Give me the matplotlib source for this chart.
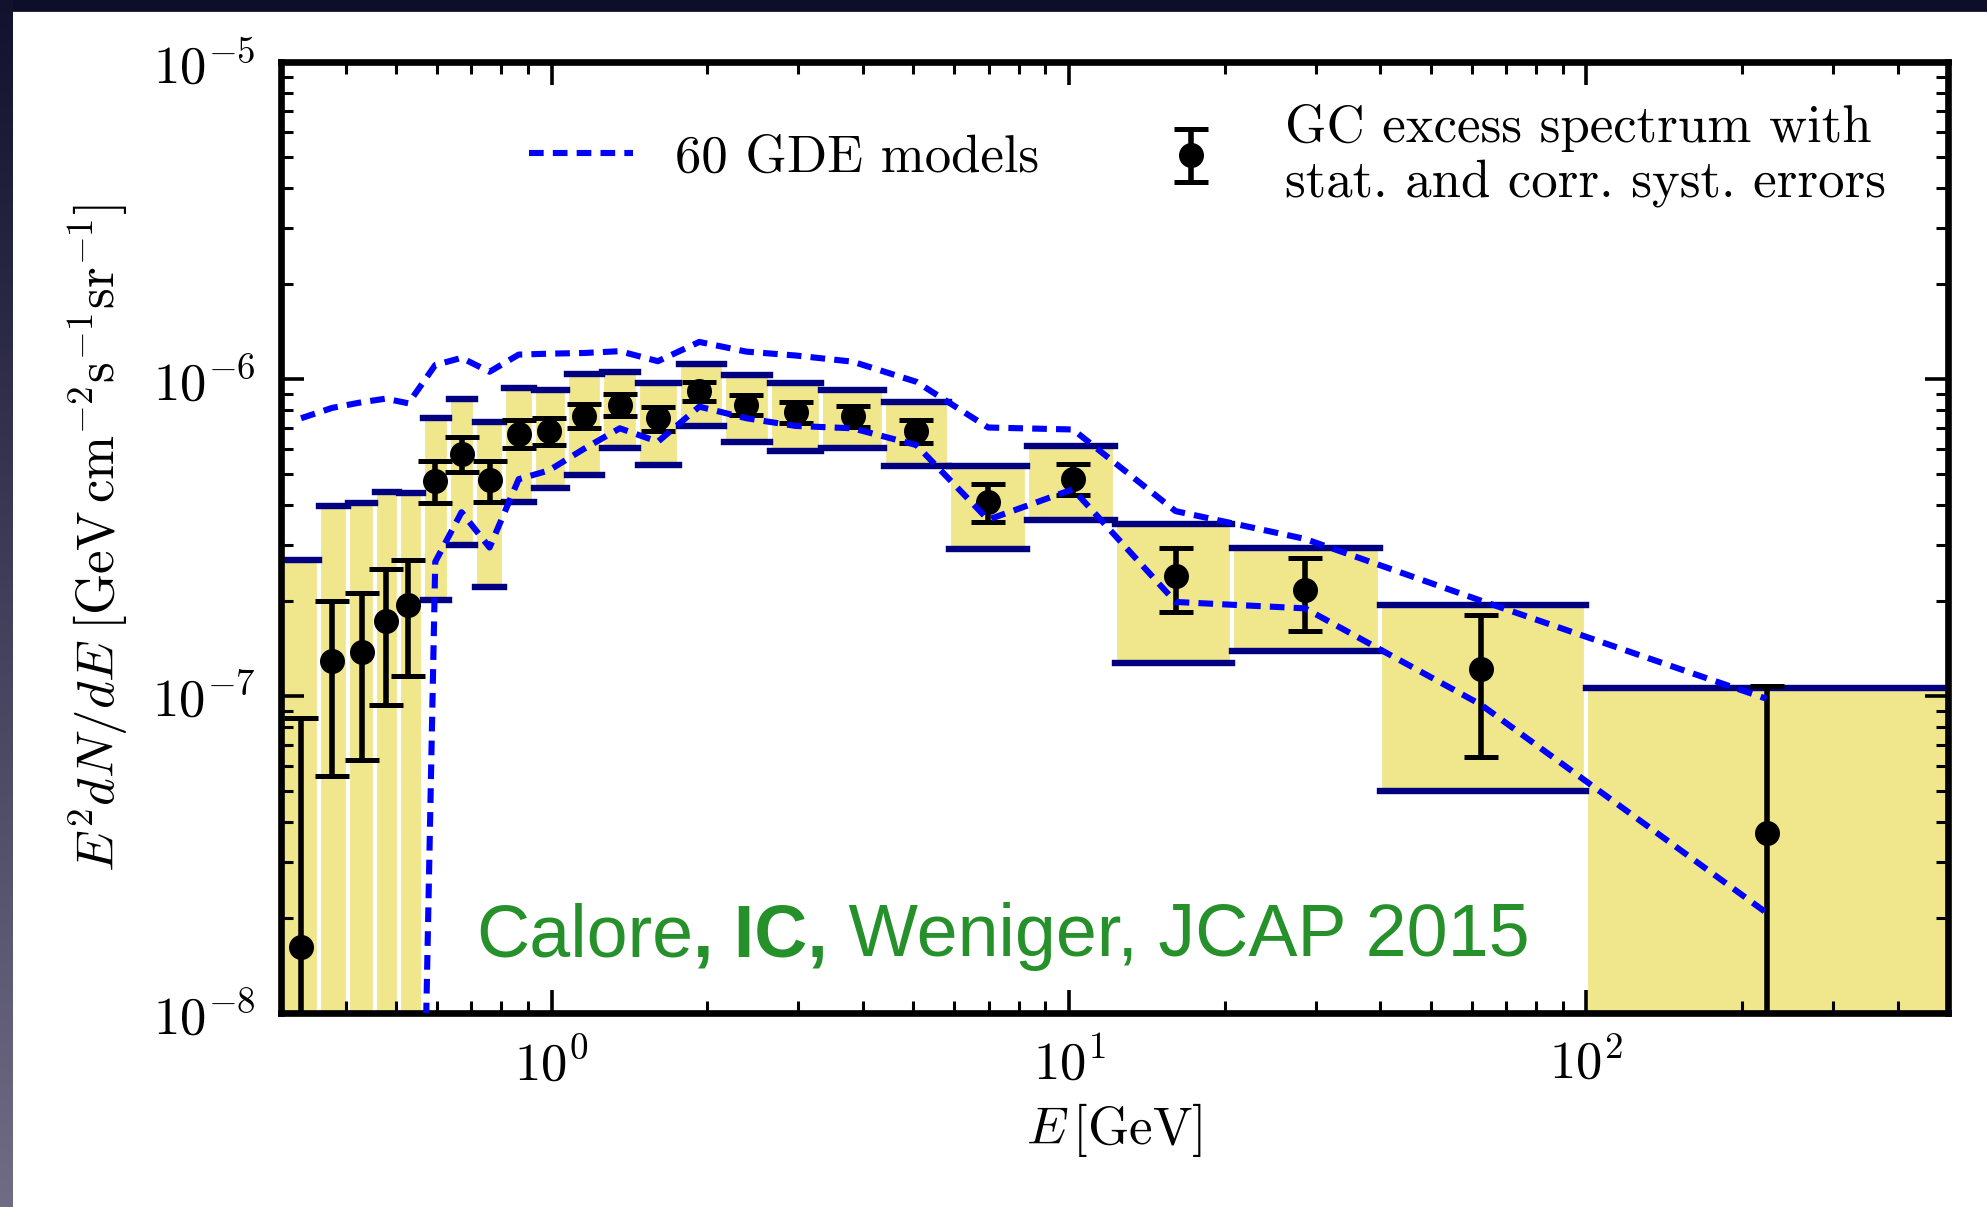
import numpy as np
import matplotlib
matplotlib.use("Agg")
import matplotlib.pyplot as plt
from matplotlib.patches import Rectangle

plt.rcParams['font.family'] = 'serif'
plt.rcParams['font.serif'] = ['cmr10']
plt.rcParams['mathtext.fontset'] = 'cm'
plt.rcParams['axes.formatter.use_mathtext'] = True

# energy bins [GeV]
bin_edges = [0.30, 0.355, 0.405, 0.456, 0.507, 0.565, 0.633, 0.711, 0.809, 0.925,
             1.07, 1.25, 1.47, 1.76, 2.15, 2.64, 3.32, 4.40, 5.86, 8.31,
             12.3, 20.7, 40.0, 100.0, 500.0]
energy = [0.328, 0.377, 0.430, 0.478, 0.529, 0.596, 0.670, 0.759, 0.864, 0.989,
          1.157, 1.355, 1.605, 1.93, 2.38, 2.965, 3.82, 5.07, 6.98, 10.18,
          16.07, 28.6, 62.5, 223.0]

# GC excess, E^2 dN/dE [GeV cm^-2 s^-1 sr^-1]
flux = [1.62e-8, 1.29e-7, 1.38e-7, 1.73e-7, 1.93e-7, 4.78e-7, 5.82e-7, 4.80e-7,
        6.73e-7, 6.86e-7, 7.64e-7, 8.28e-7, 7.52e-7, 9.17e-7, 8.28e-7, 7.89e-7,
        7.64e-7, 6.86e-7, 4.10e-7, 4.85e-7, 2.39e-7, 2.16e-7, 1.22e-7, 3.69e-8]
# statistical error bar ends
stat_lo = [5e-9, 5.6e-8, 6.3e-8, 9.4e-8, 1.16e-7, 4.05e-7, 5.10e-7, 4.08e-7,
           6.05e-7, 6.20e-7, 6.98e-7, 7.64e-7, 6.86e-7, 8.53e-7, 7.70e-7, 7.25e-7,
           7.06e-7, 6.29e-7, 3.55e-7, 4.31e-7, 1.84e-7, 1.60e-7, 6.43e-8, 5e-9]
stat_hi = [8.5e-8, 2.0e-7, 2.12e-7, 2.52e-7, 2.69e-7, 5.52e-7, 6.56e-7, 5.50e-7,
           7.43e-7, 7.55e-7, 8.32e-7, 8.99e-7, 8.16e-7, 9.79e-7, 8.91e-7, 8.49e-7,
           8.20e-7, 7.44e-7, 4.65e-7, 5.41e-7, 2.92e-7, 2.72e-7, 1.80e-7, 1.077e-7]
# correlated systematic band (boxes)
sys_lo = [5e-9, 5e-9, 5e-9, 5e-9, 5e-9, 2.01e-7, 2.99e-7, 2.21e-7,
          4.08e-7, 4.53e-7, 4.98e-7, 6.05e-7, 5.36e-7, 7.11e-7, 6.34e-7, 5.93e-7,
          6.05e-7, 5.30e-7, 2.90e-7, 3.59e-7, 1.27e-7, 1.39e-7, 5.0e-8, 5e-9]
sys_hi = [2.69e-7, 3.98e-7, 4.07e-7, 4.41e-7, 4.38e-7, 7.52e-7, 8.67e-7, 7.34e-7,
          9.39e-7, 9.21e-7, 1.035e-6, 1.054e-6, 9.69e-7, 1.117e-6, 1.027e-6, 9.73e-7,
          9.21e-7, 8.45e-7, 5.30e-7, 6.14e-7, 3.48e-7, 2.93e-7, 1.94e-7, 1.057e-7]

# envelope of the 60 GDE models
gde_upper = [7.52e-7, 8.11e-7, 8.45e-7, 8.67e-7, 8.38e-7, 1.107e-6, 1.166e-6, 1.054e-6,
             1.194e-6, 1.202e-6, 1.208e-6, 1.224e-6, 1.138e-6, 1.309e-6, 1.220e-6, 1.186e-6,
             1.134e-6, 9.8e-7, 7.03e-7, 6.93e-7, 3.83e-7, 3.13e-7, 2.0e-7, 9.8e-8]
gde_lower = [1e-11, 1e-11, 1e-11, 1e-11, 1.5e-11, 2.65e-7, 3.80e-7, 2.94e-7,
             4.83e-7, 5.15e-7, 6.03e-7, 6.99e-7, 6.34e-7, 8.18e-7, 7.52e-7, 7.11e-7,
             6.99e-7, 6.19e-7, 3.60e-7, 4.49e-7, 1.98e-7, 1.89e-7, 9.4e-8, 2.07e-8]

W, H = 1987, 1207
fig = plt.figure(figsize=(W / 200, H / 200), dpi=200)
fig.patch.set_facecolor('white')

# slide frame: dark strip on top, gradient strip on the left
fig.add_artist(Rectangle((0, 1 - 10 / H), 1, 10 / H, transform=fig.transFigure,
                         color='#0e0e2a', zorder=0))
strip = fig.add_axes([0, 0, 13 / W, 1])
top_c = np.array([18, 18, 46]) / 255.
bot_c = np.array([112, 108, 132]) / 255.
t = np.linspace(0, 1, 256)[:, None]
grad = (top_c[None, :] * (1 - t) + bot_c[None, :] * t)[:, None, :]
strip.imshow(grad, aspect='auto')
strip.set_axis_off()

ax = fig.add_axes([281 / W, 1 - 1013 / H, (1948 - 281) / W, (1013 - 62) / H])
ax.set_xscale('log')
ax.set_yscale('log')
ax.set_xlim(0.3, 500)
ax.set_ylim(1e-8, 1e-5)

lo = np.array(bin_edges[:-1])
hi = np.array(bin_edges[1:])
slo = np.array(sys_lo)
shi = np.array(sys_hi)

ax.bar(lo, shi - slo, width=hi - lo, bottom=slo, align='edge',
       color='#f0e68c', edgecolor='white', linewidth=1.5, zorder=1)
for yy in (shi, slo):
    lc = ax.hlines(yy, lo, hi, colors='#000080', linewidth=2.3, zorder=2)
    lc.set_capstyle('projecting')

f = np.array(flux)
eb = ax.errorbar(energy, flux, yerr=[f - np.array(stat_lo), np.array(stat_hi) - f],
                 fmt='o', color='black', ms=8, elinewidth=2.0, capsize=6,
                 capthick=1.8, zorder=4,
                 label='GC excess spectrum with\nstat. and corr. syst. errors')

ln, = ax.plot(energy, gde_upper, color='#0000ff', lw=2.2, dashes=(2.4, 1.5),
              zorder=5, label='60 GDE models')
ax.plot(energy, gde_lower, color='#0000ff', lw=2.2, dashes=(2.4, 1.5), zorder=5)

for s in ax.spines.values():
    s.set_linewidth(2.4)
ax.tick_params(which='both', direction='in', top=True, right=True,
               labelsize=19, pad=9)
ax.tick_params(which='major', length=8.3, width=1.3)
ax.tick_params(which='minor', length=4.3, width=1.1)

ax.set_xlabel(r'$E\,[\mathrm{GeV}]$', fontsize=19, labelpad=4)
ax.set_ylabel(r'$E^2dN/dE\;[\mathrm{GeV\,cm^{-2}s^{-1}sr^{-1}}]$', fontsize=19,
              labelpad=8)

leg1 = ax.legend(handles=[ln], loc='center left', bbox_to_anchor=(0.149, 0.899),
                 frameon=False, fontsize=19, handlelength=1.97, handletextpad=0.79,
                 borderpad=0, borderaxespad=0)
ax.add_artist(leg1)
leg2 = ax.legend(handles=[eb], loc='center left', bbox_to_anchor=(0.515, 0.902),
                 frameon=False, fontsize=19, handlelength=1.97, handletextpad=0.79,
                 borderpad=0, borderaxespad=0)
for tx in leg2.get_texts():
    tx.set_linespacing(1.18)

# citation in green, middle part bold
green = '#26912b'
t1 = ax.text(0.117, 0.044, 'Calore', transform=ax.transAxes, color=green,
             fontsize=26.5, family='Liberation Sans', va='bottom', ha='left', zorder=10)
t2 = ax.annotate(', IC,', xy=(1, 0), xycoords=t1, color=green, fontsize=26.5,
                 family='Liberation Sans', fontweight='bold', va='bottom', ha='left',
                 zorder=10)
ax.annotate(' Weniger, JCAP 2015', xy=(1, 0), xycoords=t2, color=green,
            fontsize=26.5, family='Liberation Sans', va='bottom', ha='left', zorder=10)

fig.savefig('out.png', dpi=200)
